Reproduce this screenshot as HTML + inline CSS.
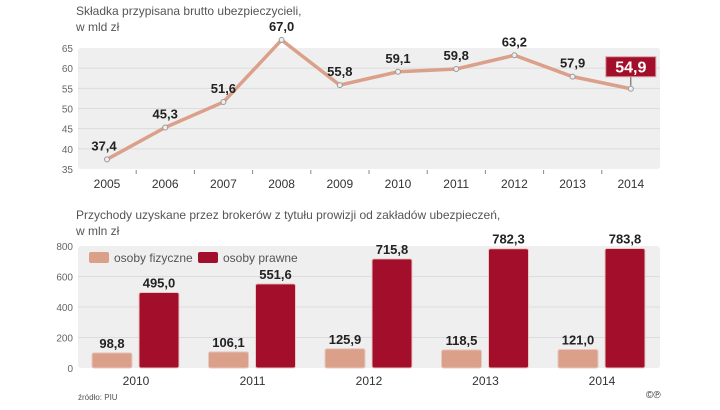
<!DOCTYPE html>
<html><head><meta charset="utf-8"><style>
body{margin:0;background:#fff;font-family:"Liberation Sans",sans-serif}
svg text{font-family:"Liberation Sans",sans-serif}
</style></head><body>
<svg width="720" height="405" viewBox="0 0 720 405">
<text x="76" y="15" font-size="12" fill="#555">Składka przypisana brutto ubezpieczycieli,</text>
<text x="76" y="31" font-size="12" fill="#555">w mld zł</text>
<rect x="78" y="48" width="582" height="121" fill="#efefef" rx="3"/>
<g id="top"></g>
<text x="76" y="219" font-size="12" fill="#555">Przychody uzyskane przez brokerów z tytułu prowizji od zakładów ubezpieczeń,</text>
<text x="76" y="235" font-size="12" fill="#555">w mln zł</text>
<rect x="78" y="246" width="582" height="122" fill="#efefef" rx="3"/>
<g id="bot"></g>
<rect x="89" y="252" width="20" height="11" fill="#dba08a" rx="2"/>
<text x="114" y="262" font-size="12" fill="#555">osoby fizyczne</text>
<rect x="198" y="252" width="20" height="11" fill="#a30e2a" rx="2"/>
<text x="223" y="262" font-size="12" fill="#555">osoby prawne</text>
<text x="78" y="400" font-size="8" fill="#555">źródło: PIU</text>
<text x="646" y="398" font-size="10" fill="#333">©℗</text>
</svg>
<script>
const topYears=["2005","2006","2007","2008","2009","2010","2011","2012","2013","2014"];
const topValues=[37.4,45.3,51.6,67.0,55.8,59.1,59.8,63.2,57.9,54.9];
const topTicks=[35,40,45,50,55,60,65];
const botYears=["2010","2011","2012","2013","2014"];
const fizyczne=[98.8,106.1,125.9,118.5,121.0];
const prawne=[495.0,551.6,715.8,782.3,783.8];
const botTicks=[0,200,400,600,800];
const NS="http://www.w3.org/2000/svg";
function mk(p,t,a){const e=document.createElementNS(NS,t);for(const k in a)e.setAttribute(k,a[k]);p.appendChild(e);return e;}
const fmt=v=>v.toFixed(1).replace('.',',');
const tg=document.getElementById('top');
const tx=i=>107+i*58.2, ty=v=>169-(v-35)*(121/30);
topTicks.forEach(t=>{
 if(t>35&&t<65){const l=mk(tg,'line',{x1:78,x2:660,y1:ty(t),y2:ty(t),stroke:'#dcdcdc'});}
 const e=mk(tg,'text',{x:73,y:ty(t)+4,'font-size':10,fill:'#666','text-anchor':'end'});e.textContent=t;
 
});
topYears.forEach((y,i)=>{
 const e=mk(tg,'text',{x:tx(i),y:188,'font-size':12,fill:'#333','text-anchor':'middle'});e.textContent=y;
 
 if(i>0){const t=mk(tg,'line',{x1:tx(i)-29,x2:tx(i)-29,y1:170,y2:174,stroke:'#888'});}
});
const line=mk(tg,'polyline',{points:topValues.map((v,i)=>tx(i)+','+ty(v)).join(' '),fill:'none',stroke:'#dba08a','stroke-width':3.5});

topValues.forEach((v,i)=>{
 const c=mk(tg,'circle',{cx:tx(i),cy:ty(v),r:2.5,fill:'#eee',stroke:'#999','stroke-width':1});
 
 if(i===topValues.length-1){
  mk(tg,'line',{x1:tx(i),x2:tx(i),y1:ty(v)-3,y2:ty(v)-12,stroke:'#555'});
  const r=mk(tg,'rect',{x:tx(i)-25,y:ty(v)-32,width:50,height:20,fill:'#a30e2a',stroke:'#d8a0a0'});
  
  const e=mk(tg,'text',{x:tx(i),y:ty(v)-16,'font-size':16,'font-weight':'bold',fill:'#fff','text-anchor':'middle'});e.textContent=fmt(v);
  
 } else {
  const e=mk(tg,'text',{x:tx(i)-(i==0?3:0),y:ty(v)-9,'font-size':13,'font-weight':'bold',fill:'#222','text-anchor':'middle'});e.textContent=fmt(v);
  
 }
});
const bg=document.getElementById('bot');
const by=v=>368-v*(122/800), gx=i=>136+i*116.5;
botTicks.forEach(t=>{
 if(t>0&&t<800){const l=mk(bg,'line',{x1:78,x2:660,y1:by(t),y2:by(t),stroke:'#dcdcdc'});}
 const e=mk(bg,'text',{x:73,y:by(t)+4,'font-size':10,fill:'#666','text-anchor':'end'});e.textContent=t;
 
});
botYears.forEach((y,i)=>{
 const e=mk(bg,'text',{x:gx(i),y:385,'font-size':12,fill:'#333','text-anchor':'middle'});e.textContent=y;
 
 [[fizyczne[i],gx(i)-44,'#dba08a','bar-fizyczne'],[prawne[i],gx(i)+3,'#a30e2a','bar-prawne']].forEach(([v,x,c,n])=>{
  const r=mk(bg,'rect',{x:x,y:by(v),width:40,height:368-by(v),fill:c,stroke:'#e8c8c0','stroke-width':1,rx:2});
  
  const t=mk(bg,'text',{x:x+20,y:by(v)-5,'font-size':13,'font-weight':'bold',fill:'#222','text-anchor':'middle'});t.textContent=fmt(v);
  
 });
});
</script>
</body></html>
